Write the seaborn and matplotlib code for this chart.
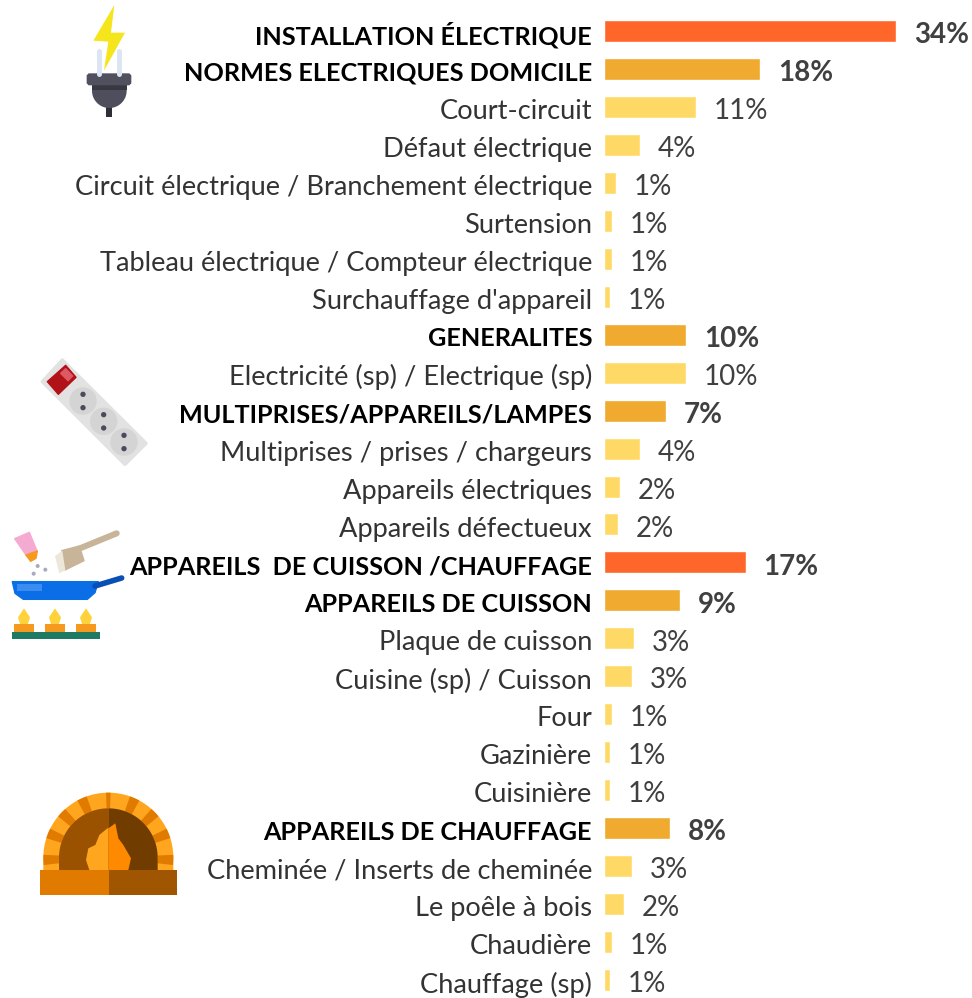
import numpy as np
import pandas as pd
import seaborn as sns
import matplotlib
matplotlib.use("Agg")
import matplotlib.pyplot as plt
from matplotlib.patches import Polygon, Circle, Rectangle
from matplotlib.transforms import ScaledTranslation

categories = ["INSTALLATION ÉLECTRIQUE", "NORMES ELECTRIQUES DOMICILE", "Court-circuit", "Défaut électrique",
              "Circuit électrique / Branchement électrique", "Surtension", "Tableau électrique / Compteur électrique",
              "Surchauffage d'appareil", "GENERALITES", "Electricité (sp) / Electrique (sp)",
              "MULTIPRISES/APPAREILS/LAMPES", "Multiprises / prises / chargeurs", "Appareils électriques",
              "Appareils défectueux", "APPAREILS  DE CUISSON /CHAUFFAGE", "APPAREILS DE CUISSON", "Plaque de cuisson",
              "Cuisine (sp) / Cuisson", "Four", "Gazinière", "Cuisinière", "APPAREILS DE CHAUFFAGE",
              "Cheminée / Inserts de cheminée", "Le poêle à bois", "Chaudière", "Chauffage (sp)"]
values = [34.0, 18.2, 10.7, 4.2, 1.4, 0.9, 0.9, 0.7, 9.55, 9.55, 7.2, 4.2, 1.9, 1.6,
          16.5, 8.85, 3.5, 3.3, 0.9, 0.7, 0.7, 7.7, 3.3, 2.3, 0.9, 0.7]
shown = [34, 18, 11, 4, 1, 1, 1, 1, 10, 10, 7, 4, 2, 2, 17, 9, 3, 3, 1, 1, 1, 8, 3, 2, 1, 1]
levels = [1, 2, 3, 3, 3, 3, 3, 3, 2, 3, 2, 3, 3, 3, 1, 2, 3, 3, 3, 3, 3, 2, 3, 3, 3, 3]
level_colors = {1: "#FF662A", 2: "#EFAA2F", 3: "#FFD966"}

W, H = 972, 998
FONT = "Lato"
sns.set_theme(style="white")
plt.rcParams["font.family"] = [FONT, "DejaVu Sans"]

fig = plt.figure(figsize=(W / 100, H / 100), dpi=100, facecolor="white")
x0, pxperc, row, y0 = 604, 292 / 34.0, 37.96, 31.0
ax = fig.add_axes([x0 / W, 0, 1 - x0 / W, 1])
df = pd.DataFrame({"cat": categories, "val": values, "level": levels})
sns.barplot(data=df, y="cat", x="val", hue="level", palette=level_colors, dodge=False,
            width=22 / 38, orient="h", legend=False, ax=ax, saturation=1, order=categories)
ax.set_xlim(0, (W - x0) / pxperc)
ax.set_ylim((H - y0) / row, -y0 / row)
ax.set_xlabel(""); ax.set_ylabel(""); ax.set_xticks([])
ax.tick_params(axis="y", length=0, pad=8.6)
sns.despine(ax=ax, left=True, bottom=True)
ax.patch.set_alpha(0)
shift = ScaledTranslation(0, -1.5 / 72, fig.dpi_scale_trans)
for t, lv in zip(ax.get_yticklabels(), levels):
    bold = lv < 3
    t.set_fontsize(18.2 if bold else 19.6)
    t.set_fontweight("bold" if bold else "normal")
    t.set_color("black" if bold else "#333333")
    t.set_transform(t.get_transform() + shift)
for i, (v, s, lv) in enumerate(zip(values, shown, levels)):
    ax.annotate(f"{s}%", (v, i), xytext=(12.9, -1.2), textcoords="offset points", va="center_baseline", ha="left",
                fontsize=20, fontweight="bold" if lv < 3 else "normal", color="#404040")

# Decorative icons in pixel space
ov = fig.add_axes([0, 0, 1, 1], zorder=-1)
ov.set_xlim(0, W); ov.set_ylim(H, 0); ov.axis("off")

def P(pts, off, c, lw=0.0):
    a = np.array(pts, float) / 3 + off
    ov.add_patch(Polygon(a, closed=True, fc=c, ec=c if lw else "none", lw=lw, joinstyle="round"))
def R(x1, y1, x2, y2, off, c):
    ov.add_patch(Rectangle(((x1 / 3 + off[0]), (y1 / 3 + off[1])), (x2 - x1) / 3, (y2 - y1) / 3, fc=c, ec="none"))
def C(x, y, r, off, c):
    ov.add_patch(Circle((x / 3 + off[0], y / 3 + off[1]), r / 3, fc=c, ec="none"))
def L(pts, off, c, lw):
    a = np.array(pts, float) / 3 + off
    ov.plot(a[:, 0], a[:, 1], color=c, lw=lw, solid_capstyle="round")
def arc(cx, cy, r, a1, a2, n=60):
    t = np.radians(np.linspace(a1, a2, n))
    return np.c_[cx + r * np.cos(t), cy - r * np.sin(t)]

# plug
o = np.array([30, 0])
L([(207, 152), (207, 222)], o, "#DDE5F5", 3.6); L([(266, 152), (266, 222)], o, "#DDE5F5", 3.6)
R(229, 318, 245, 352, o, "#2E2E38")
P(np.vstack([[186, 256], [290, 256], arc(238, 272, 52, 0, -180)]), o, "#4E4E5C")
R(186, 256, 290, 270, o, "#383842")
P([(176, 220), (298, 220), (304, 226), (304, 250), (298, 256), (176, 256), (170, 250), (170, 226)], o, "#50505E")
P([(253, 15), (190, 122), (235, 125), (222, 212), (285, 98), (243, 98)], o, "#F5E51C")

# power strip
o = np.array([0, 340])
P([(187, 60), (127, 125), (375, 373), (438, 310)], o, "#E2E2E2", lw=2.5)
P([(197, 76), (228, 112), (175, 163), (142, 125)], o, "#B01218", lw=1)
P([(197, 86), (218, 108), (204, 122), (182, 100)], o, "#DE5A62", lw=1)
for x, y in [(249, 183), (311, 244), (372, 306)]:
    C(x, y, 41, o, "#D4D4D4")
    C(x, y - 20, 8, o, "#4A4A5C"); C(x, y + 20, 8, o, "#4A4A5C")

# pan, shaker, brush, burners
P([(44, 596), (88, 577), (112, 635), (80, 648)], o, "#F5AAD2", lw=1)
P([(78, 645), (112, 633), (108, 655), (92, 664)], o, "#F59A1E", lw=1)
for x, y in [(113, 678), (136, 689), (101, 701)]:
    C(x, y, 6, o, "#A9ABB8")
L([(240, 625), (350, 580)], o, "#C8B498", 4.4)
P([(185, 632), (238, 618), (252, 662), (195, 690)], o, "#C8B498", lw=1)
P([(165, 648), (187, 632), (196, 690), (178, 700)], o, "#EDE6DA")
L([(285, 738), (365, 714)], o, "#0A50B4", 4.0)
P(np.vstack([[37, 725], [295, 725], [285, 758], [262, 778], [70, 778], [45, 760]]), o, "#0A6EE6", lw=1)
R(50, 733, 125, 752, o, "#3A8CF0")
for x in [72, 165, 258]:
    P([(x, 805), (x + 18, 832), (x + 12, 852), (x - 12, 852), (x - 18, 832)], o, "#FFD23C")
    R(x - 30, 852, x + 30, 876, o, "#F59A1E")
R(37, 875, 300, 898, o, "#1F7A63")

# oven
o = np.array([20, 780])
cx, cy = 265, 233
P(np.vstack([[70, 270], arc(cx, cy, 195, 180, 0), [460, 270]]), o, "#FFA51E")
for a in [-2, 22, 44, 66, 90, 114, 136, 158, 182]:
    d = 4.5 if a != 90 else 2.0
    P(np.vstack([arc(cx, cy, 195, a - d, a + d, 4), arc(cx, cy, 148, a + d, a - d, 4)]), o, "#E07B00")
P(np.vstack([[cx, 270], [cx - 148, 270], arc(cx, cy, 148, 180, 90)]), o, "#9A5200")
P(np.vstack([[cx, 270], [cx + 148, 270], arc(cx, cy, 148, 0, 90)]), o, "#703C00")
P([(265, 270), (208, 270), (198, 240), (205, 205), (226, 195), (238, 165), (262, 145), (265, 145)], o, "#FFA51E")
P([(265, 270), (325, 270), (333, 235), (310, 195), (295, 175), (286, 130), (265, 145)], o, "#FF8A00")
R(60, 270, 266, 346, o, "#E07B00")
R(266, 270, 472, 346, o, "#A05500")

fig.savefig("out.png", dpi=100)
